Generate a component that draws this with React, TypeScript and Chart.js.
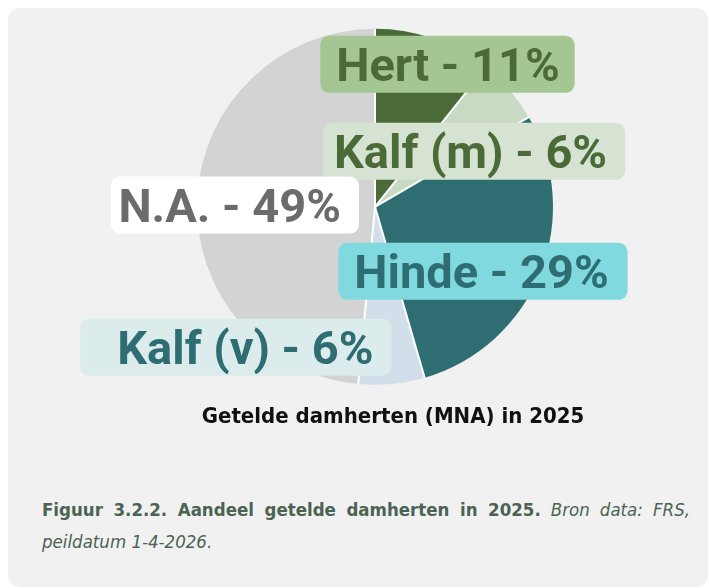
import React, { useEffect, useRef } from "react";
import { Chart, registerables } from "chart.js";

Chart.register(...registerables);

// Data
const categories = ["Hert", "Kalf (m)", "Hinde", "Kalf (v)", "N.A."];
const shares = [10.7, 5.9, 28.9, 6.0, 48.5];
const chartTitle = "Getelde damherten (MNA) in 2025";

// Styles
const sliceColors = ["#4a6b37", "#c8d9c4", "#2e6e73", "#d2dfea", "#d3d3d3"];
const boxColors = ["#a3c692", "#d6e2d2", "#80d9df", "#dcecec", "#ffffff"];
const textColors = ["#4a6b37", "#4a6b37", "#2e6e73", "#2e6e73", "#6b6b6b"];
// label text-centre offsets from each slice's centre point, and box paddings (left, right)
const labelOffsets = [
  [43.6, -58.5],
  [28.2, 2.7],
  [23.8, 31.5],
  [-138, 51.9],
  [-56.4, 2.5],
];
const labelPads = [
  [16, 15],
  [11, 18],
  [16, 19],
  [37, 18],
  [7.5, 18],
];

const separatorPlugin = {
  id: "separators",
  afterDatasetsDraw(chart: any) {
    const ctx: CanvasRenderingContext2D = chart.ctx;
    const meta = chart.getDatasetMeta(0);
    ctx.save();
    ctx.strokeStyle = "#ffffff";
    ctx.lineWidth = 2;
    ctx.lineCap = "butt";
    meta.data.forEach((arc: any) => {
      const { x, y, startAngle, outerRadius } = arc.getProps(["x", "y", "startAngle", "outerRadius"], true);
      ctx.beginPath();
      ctx.moveTo(x, y);
      ctx.lineTo(x + Math.cos(startAngle) * outerRadius, y + Math.sin(startAngle) * outerRadius);
      ctx.stroke();
    });
    ctx.restore();
  },
};

const boxLabelPlugin = {
  id: "boxLabels",
  afterDatasetsDraw(chart: any) {
    const ctx: CanvasRenderingContext2D = chart.ctx;
    const meta = chart.getDatasetMeta(0);
    const total = shares.reduce((a, b) => a + b, 0);
    meta.data.forEach((arc: any, i: number) => {
      const p = arc.tooltipPosition();
      const cx = p.x + labelOffsets[i][0];
      const cy = p.y + labelOffsets[i][1];
      const text = `${categories[i]} - ${Math.round((shares[i] / total) * 100)}%`;
      ctx.save();
      ctx.font = "bold 47px Roboto";
      const w = ctx.measureText(text).width;
      const x0 = cx - w / 2 - labelPads[i][0];
      const x1 = cx + w / 2 + labelPads[i][1];
      const h = 57;
      ctx.beginPath();
      (ctx as any).roundRect(x0, cy - h / 2, x1 - x0, h, 9);
      ctx.fillStyle = boxColors[i];
      ctx.fill();
      ctx.fillStyle = textColors[i];
      ctx.textAlign = "center";
      ctx.textBaseline = "alphabetic";
      ctx.fillText(text, cx, cy + 16.7);
      ctx.restore();
    });
  },
};

const shiftTitlePlugin = {
  id: "shiftTitle",
  afterLayout(chart: any) {
    const t = chart.titleBlock;
    if (t) {
      t.left += 18;
      t.right += 18;
    }
  },
};

export default function App() {
  const ref = useRef<HTMLCanvasElement>(null);
  useEffect(() => {
    if (!ref.current) return;
    const chart = new Chart(ref.current, {
      type: "pie",
      data: {
        labels: categories,
        datasets: [
          {
            data: shares,
            backgroundColor: sliceColors,
            borderWidth: 0,
            radius: 178,
          } as any,
        ],
      },
      options: {
        responsive: false,
        animation: false,
        layout: { padding: { left: 34, top: 12, right: 0, bottom: 0 } },
        plugins: {
          legend: { display: false },
          tooltip: { enabled: false },
          title: {
            display: true,
            text: chartTitle,
            position: "bottom",
            color: "#111111",
            font: { family: "'DejaVu Sans Condensed'", weight: "bold", size: 22 },
            padding: { top: 10, bottom: 10 },
          },
        },
      },
      plugins: [separatorPlugin, boxLabelPlugin, shiftTitlePlugin],
    });
    return () => chart.destroy();
  }, []);

  return (
    <div
      style={{
        position: "absolute",
        left: 8,
        top: 8,
        width: 700,
        height: 579,
        background: "#f1f1f1",
        borderRadius: 12,
        overflow: "hidden",
      }}
    >
      <canvas ref={ref} width={700} height={432} style={{ position: "absolute", left: 0, top: 0 }} />
      <div
        style={{
          position: "absolute",
          left: 34,
          top: 486,
          width: 648,
          fontFamily: "'DejaVu Sans Condensed', 'DejaVu Sans', sans-serif",
          fontSize: 18.5,
          lineHeight: "32px",
          color: "#4a6352",
          textAlign: "justify",
        }}
      >
        <b>Figuur 3.2.2. Aandeel getelde damherten in 2025.</b> <i>Bron data: FRS, peildatum 1-4-2026.</i>
      </div>
    </div>
  );
}
